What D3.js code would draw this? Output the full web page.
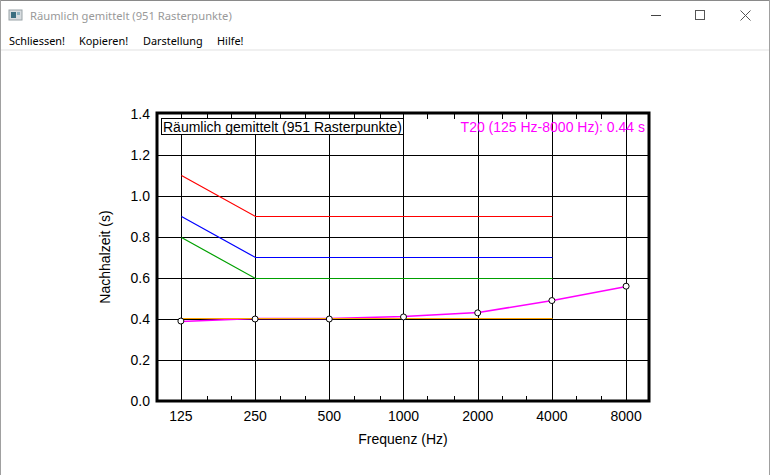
<!DOCTYPE html>
<html><head><meta charset="utf-8">
<script src="https://cdn.jsdelivr.net/npm/d3@7"></script>
<style>html,body{margin:0;padding:0;background:#fff;overflow:hidden}</style>
</head><body>
<svg id="c" width="770" height="475"></svg>
<script>
const windowTitle = "Räumlich gemittelt (951 Rasterpunkte)";
const menuItems = ["Schliessen!", "Kopieren!", "Darstellung", "Hilfe!"];
const freqs = [125, 250, 500, 1000, 2000, 4000, 8000];
const thirdOctaves = [100,125,160,200,250,315,400,500,630,800,1000,1250,1600,2000,2500,3150,4000,5000,6300,8000,10000];
const yTicks = [0, 0.2, 0.4, 0.6, 0.8, 1.0, 1.2, 1.4];
const t20 = [0.39, 0.40, 0.40, 0.41, 0.43, 0.49, 0.56];
const limitFreqs = [125, 250, 4000];
const upperLimit = [1.1, 0.9, 0.9];
const midLimit = [0.9, 0.7, 0.7];
const lowerLimit = [0.8, 0.6, 0.6];
const refFreqs = [125, 4000];
const refLine = [0.4, 0.4];
const legendText = "Räumlich gemittelt (951 Rasterpunkte)";
const t20Text = "T20 (125 Hz-8000 Hz): 0.44 s";
const xTitle = "Frequenz (Hz)";
const yTitle = "Nachhalzeit (s)";

const svg = d3.select("#c");
const chromeFont = "'Noto Sans', 'Open Sans', sans-serif";
const chartFont = "'Liberation Sans', Arial, sans-serif";

// window chrome
svg.append("rect").attr("x",0).attr("y",0).attr("width",770).attr("height",475).attr("fill","#fff");
svg.append("line").attr("x1",0).attr("x2",770).attr("y1",0.5).attr("y2",0.5).attr("stroke","#8a8a8a");
svg.append("line").attr("x1",0.5).attr("x2",0.5).attr("y1",0).attr("y2",475).attr("stroke","#a0a0a0");
svg.append("line").attr("x1",769.5).attr("x2",769.5).attr("y1",0).attr("y2",475).attr("stroke","#a0a0a0");
// icon
const ic = svg.append("g").attr("transform","translate(9,10)");
ic.append("rect").attr("width",13).attr("height",10).attr("fill","#d8dde0").attr("stroke","#9aa3a8");
ic.append("rect").attr("x",2).attr("y",2).attr("width",5).attr("height",6).attr("fill","#3a6e80");
ic.append("rect").attr("x",8).attr("y",2).attr("width",3).attr("height",3).attr("fill","#8fb3c0");
svg.append("text").attr("x",30).attr("y",20).attr("font-family",chromeFont).attr("font-size",11.2)
  .attr("fill","#999").text(windowTitle);
// controls
svg.append("line").attr("x1",651).attr("x2",661).attr("y1",15.5).attr("y2",15.5).attr("stroke","#444");
svg.append("rect").attr("x",695.5).attr("y",10.5).attr("width",9).attr("height",9).attr("fill","none").attr("stroke","#555");
svg.append("path").attr("d","M740.5,10.5L750.5,20.5M750.5,10.5L740.5,20.5").attr("stroke","#555").attr("fill","none");
// menu
const menuGaps = [0, 70, 134, 208];
menuItems.forEach((m,i)=>{
  svg.append("text").attr("x",9+menuGaps[i]).attr("y",45).attr("font-family",chromeFont).attr("font-size",10.9)
    .attr("fill","#000").text(m);
});
svg.append("rect").attr("x",1).attr("y",49).attr("width",768).attr("height",2).attr("fill","#f0f0f0");

// chart
const x = d3.scaleLog().domain([100,10000]).range([157,650]);
const y = d3.scaleLinear().domain([0,1.4]).range([401,114]);
const g = svg.append("g");

// grid
g.selectAll(".hg").data(yTicks.slice(1,-1)).join("line")
  .attr("x1",157).attr("x2",650).attr("y1",d=>Math.round(y(d))+0.5).attr("y2",d=>Math.round(y(d))+0.5)
  .attr("stroke","#000").attr("stroke-width",1);
g.selectAll(".vg").data(freqs).join("line")
  .attr("x1",d=>Math.round(x(d))+0.5).attr("x2",d=>Math.round(x(d))+0.5).attr("y1",114).attr("y2",401)
  .attr("stroke","#000").attr("stroke-width",1);
// minor ticks top & bottom
const minors = thirdOctaves.filter(f=>f>100 && f<10000 && !freqs.includes(f));
g.selectAll(".tb").data(minors).join("line")
  .attr("x1",d=>Math.round(x(d))+0.5).attr("x2",d=>Math.round(x(d))+0.5).attr("y1",396).attr("y2",401)
  .attr("stroke","#000");
g.selectAll(".tt").data(minors).join("line")
  .attr("x1",d=>Math.round(x(d))+0.5).attr("x2",d=>Math.round(x(d))+0.5).attr("y1",114).attr("y2",119)
  .attr("stroke","#000");

// lines
const line = d3.line().x(d=>Math.round(x(d[0]))+0.5).y(d=>Math.floor(y(d[1]))+0.5);
function drawLine(fs, vs, color, w){
  g.append("path").datum(fs.map((f,i)=>[f,vs[i]])).attr("d",line)
   .attr("fill","none").attr("stroke",color).attr("stroke-width",w);
}
drawLine(limitFreqs, upperLimit, "#ff0000", 1.2);
drawLine(limitFreqs, midLimit, "#0000ff", 1.2);
drawLine(limitFreqs, lowerLimit, "#00a000", 1.2);
drawLine(freqs, t20, "#ff00ff", 1.6);
drawLine(refFreqs, refLine, "#ffa500", 1.2);
g.selectAll(".pt").data(freqs.map((f,i)=>[f,t20[i]])).join("circle")
  .attr("cx",d=>x(d[0])).attr("cy",d=>y(d[1])).attr("r",3)
  .attr("fill","#fff").attr("stroke","#000").attr("stroke-width",1);

// frame
g.append("rect").attr("x",157).attr("y",113).attr("width",492).attr("height",288)
  .attr("fill","none").attr("stroke","#000").attr("stroke-width",3);

// legend box
g.append("rect").attr("x",161.5).attr("y",118.5).attr("width",242).attr("height",16)
  .attr("fill","#fff").attr("stroke","#000").attr("stroke-width",1);
g.append("text").attr("x",163).attr("y",131.5).attr("font-family",chartFont).attr("font-size",14)
  .attr("fill","#000").text(legendText);
g.append("text").attr("x",645).attr("y",131.5).attr("text-anchor","end").attr("font-family",chartFont)
  .attr("font-size",14).attr("fill","#ff00ff").text(t20Text);

// axis labels
g.selectAll(".yl").data(yTicks).join("text")
  .attr("x",150).attr("y",d=>y(d)+5).attr("text-anchor","end")
  .attr("font-family",chartFont).attr("font-size",14).attr("fill","#000").text(d=>d.toFixed(1));
g.selectAll(".xl").data(freqs).join("text")
  .attr("x",d=>x(d)).attr("y",421).attr("text-anchor","middle")
  .attr("font-family",chartFont).attr("font-size",14).attr("fill","#000").text(d=>d);
g.append("text").attr("x",403).attr("y",444).attr("text-anchor","middle")
  .attr("font-family",chartFont).attr("font-size",14).attr("fill","#000").text(xTitle);
g.append("text").attr("transform","translate(110,257) rotate(-90)").attr("text-anchor","middle")
  .attr("font-family",chartFont).attr("font-size",14).attr("fill","#000").text(yTitle);
</script>
</body></html>
